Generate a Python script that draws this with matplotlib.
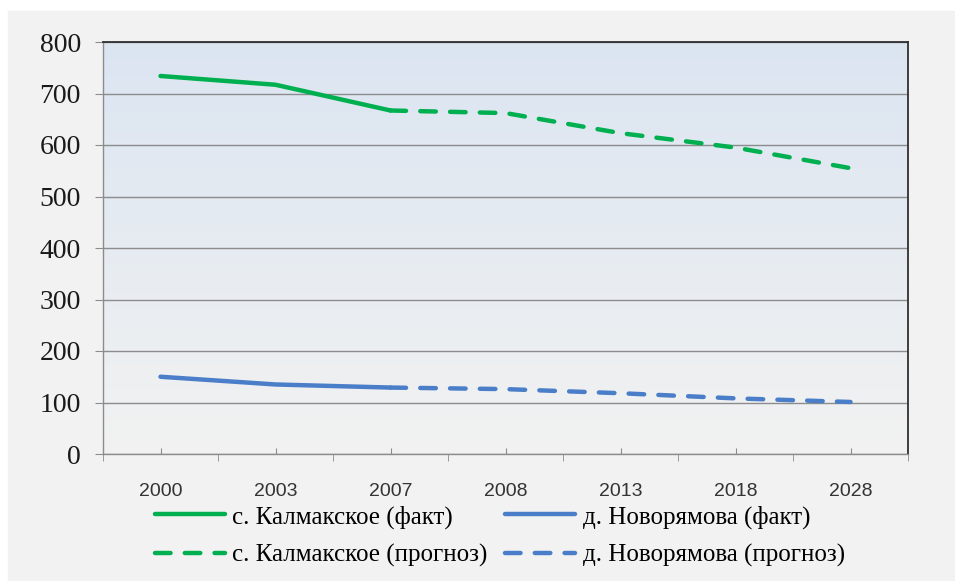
#!/usr/bin/env python3

import numpy as np
import matplotlib
matplotlib.use('Agg')
import matplotlib.pyplot as plt
from matplotlib.patches import Rectangle

# categories on the x axis
years = ['2000', '2003', '2007', '2008', '2013', '2018', '2028']

# population (fact: 2000-2007, forecast: 2007-2028)
kalm_fact = [734, 717, 667]
kalm_prog = [667, 662, 623, 595, 555]
novo_fact = [150, 135, 129]
novo_prog = [129, 126, 118, 108, 101]

labels = ['с. Калмакское (факт)', 'с. Калмакское (прогноз)',
          'д. Новорямова (факт)', 'д. Новорямова (прогноз)']

GREEN = '#00b050'
BLUE = '#4a7ec9'

fig = plt.figure(figsize=(9.55, 5.81), dpi=100)
fig.patch.set_facecolor('white')
# grey slide panel behind everything
fig.patches.append(Rectangle((8 / 955, 0), 1, 1 - 11 / 581,
                             transform=fig.transFigure, color='#f2f2f2',
                             zorder=-10))

ax = fig.add_axes([103 / 955, 1 - 454 / 581, 805 / 955, 412 / 581])

# gradient plot area: light blue at the top, pale grey at the bottom
top = np.array([0.859, 0.898, 0.945])
bot = np.array([0.949, 0.949, 0.949])
t = np.linspace(0, 1, 256)[:, None]
grad = (top * (1 - t) + bot * t)[:, None, :]
ax.imshow(grad, extent=[0, 1, 0, 1], transform=ax.transAxes,
          aspect='auto', zorder=0)

x = np.arange(len(years))
n_fact = len(kalm_fact)
x_fact = x[:n_fact]
x_prog = x[n_fact - 1:]

lw = 3.2
ax.plot(x_fact, kalm_fact, color=GREEN, lw=lw, solid_capstyle='round',
        label=labels[0], zorder=3)
ax.plot(x_prog, kalm_prog, color=GREEN, lw=lw, dashes=(3.5, 3.2),
        dash_capstyle='round', label=labels[1], zorder=3)
ax.plot(x_fact, novo_fact, color=BLUE, lw=lw, solid_capstyle='round',
        label=labels[2], zorder=3)
ax.plot(x_prog, novo_prog, color=BLUE, lw=lw, dashes=(3.5, 3.2),
        dash_capstyle='round', label=labels[3], zorder=3)

ax.set_xlim(-0.5, len(years) - 0.5)
ax.set_ylim(0, 800)
ax.set_yticks(range(0, 801, 100))
ax.yaxis.grid(True, color='#8c8c8c', lw=1)
ax.set_axisbelow(True)

ax.set_xticks(x)
ax.set_xticklabels(years)
ax.set_xticks(np.arange(-0.5, len(years), 1.0), minor=True)

for lab in ax.get_yticklabels():
    lab.set_fontfamily('Liberation Serif')
    lab.set_fontsize(20)
for lab in ax.get_xticklabels():
    lab.set_fontfamily('Liberation Sans')
    lab.set_fontsize(14)
    lab.set_color('#333333')

ax.tick_params(axis='y', direction='out', length=6, color='#8c8c8c',
               pad=10, labelcolor='#1a1a1a')
ax.tick_params(axis='x', which='major', direction='in', length=4,
               color='#8c8c8c', pad=21)
ax.tick_params(axis='x', which='minor', direction='out', length=5,
               color='#8c8c8c')

for side in ('left', 'bottom'):
    ax.spines[side].set_color('#8c8c8c')
    ax.spines[side].set_linewidth(1)
for side in ('top', 'right'):
    ax.spines[side].set_color('#303030')
    ax.spines[side].set_linewidth(1.3)

leg = fig.legend(loc='center', bbox_to_anchor=(500 / 955, 1 - 536 / 581),
                 ncol=2, frameon=False,
                 prop={'family': 'Liberation Serif', 'size': 18},
                 handlelength=2.8, handletextpad=0.3, columnspacing=0.7,
                 labelspacing=0.6)

fig.savefig('out.png', dpi=100, facecolor=fig.get_facecolor())
